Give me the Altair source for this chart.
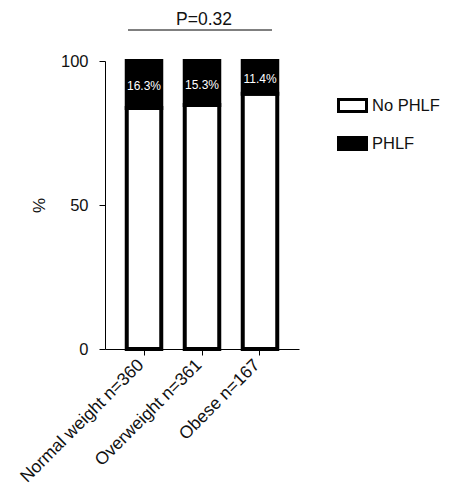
import altair as alt
import pandas as pd

groups = ["Normal weight n=360", "Overweight n=361", "Obese n=167"]
phlf = [16.3, 15.3, 11.4]
no_phlf = [100 - v for v in phlf]
series = ["No PHLF", "PHLF"]
p_text = "P=0.32"

rows = []
for g, a, b in zip(groups, no_phlf, phlf):
    rows.append({"group": g, "outcome": series[0], "value": a, "ord": 0})
    rows.append({"group": g, "outcome": series[1], "value": b, "ord": 1})
df = pd.DataFrame(rows)

lab = pd.DataFrame({
    "group": groups,
    "mid": [100 - v / 2 for v in phlf],
    "label": [f"{v:.1f}%" for v in phlf],
})

W, H = 194, 288

xscale = alt.Scale(domain=groups, paddingInner=0.405, paddingOuter=0.375)
yscale = alt.Scale(domain=[0, 100])

bars = alt.Chart(df).mark_bar(stroke="black", strokeWidth=4).encode(
    x=alt.X("group:N", scale=xscale, sort=groups,
            axis=alt.Axis(title=None, labelAngle=-45, labelFontSize=17.5,
                          labelColor="#111", tickSize=6, labelPadding=7,
                          labelOffset=-3,
                          labelBaseline="middle", labelAlign="right",
                          domainColor="black", tickColor="black")),
    y=alt.Y("value:Q", stack="zero", scale=yscale,
            axis=alt.Axis(title="%", values=[0, 50, 100], labelFontSize=16.5,
                          titleFontSize=17, titleFontWeight="normal",
                          labelColor="#111", titleColor="#111", grid=False,
                          tickSize=6, labelPadding=11, titlePadding=12,
                          domainColor="black", tickColor="black")),
    color=alt.Color("outcome:N",
                    scale=alt.Scale(domain=series, range=["white", "black"]),
                    legend=alt.Legend(title=None, orient="none", legendX=232,
                                      legendY=29, symbolType="M-1,-0.43H1V0.43H-1Z",
                                      symbolSize=784, symbolStrokeColor="black",
                                      symbolStrokeWidth=3, labelFontSize=16.5,
                                      labelColor="#111", labelOffset=4,
                                      rowPadding=10, padding=0)),
    order=alt.Order("ord:Q"),
)

texts = alt.Chart(lab).mark_text(color="white", fontSize=12, dy=2).encode(
    x=alt.X("group:N", scale=xscale, sort=groups),
    y=alt.Y("mid:Q", scale=yscale),
    text="label:N",
)

ptext = alt.Chart(pd.DataFrame({"t": [p_text]})).mark_text(
    fontSize=17.5, color="#111", baseline="alphabetic"
).encode(x=alt.value(99), y=alt.value(-36), text="t:N")

prule = alt.Chart(pd.DataFrame({"t": [p_text]})).mark_rule(
    color="black", strokeWidth=1
).encode(x=alt.value(23), x2=alt.value(167), y=alt.value(-31))

chart = alt.layer(bars, texts, ptext, prule).properties(
    width=W, height=H,
    autosize=alt.AutoSizeParams(type="none"),
    padding={"left": 97, "top": 53, "right": 142, "bottom": 137},
).configure(font="Liberation Sans").configure_view(stroke=None)

chart.save("out.html", embed_options={"renderer": "svg", "actions": False})
